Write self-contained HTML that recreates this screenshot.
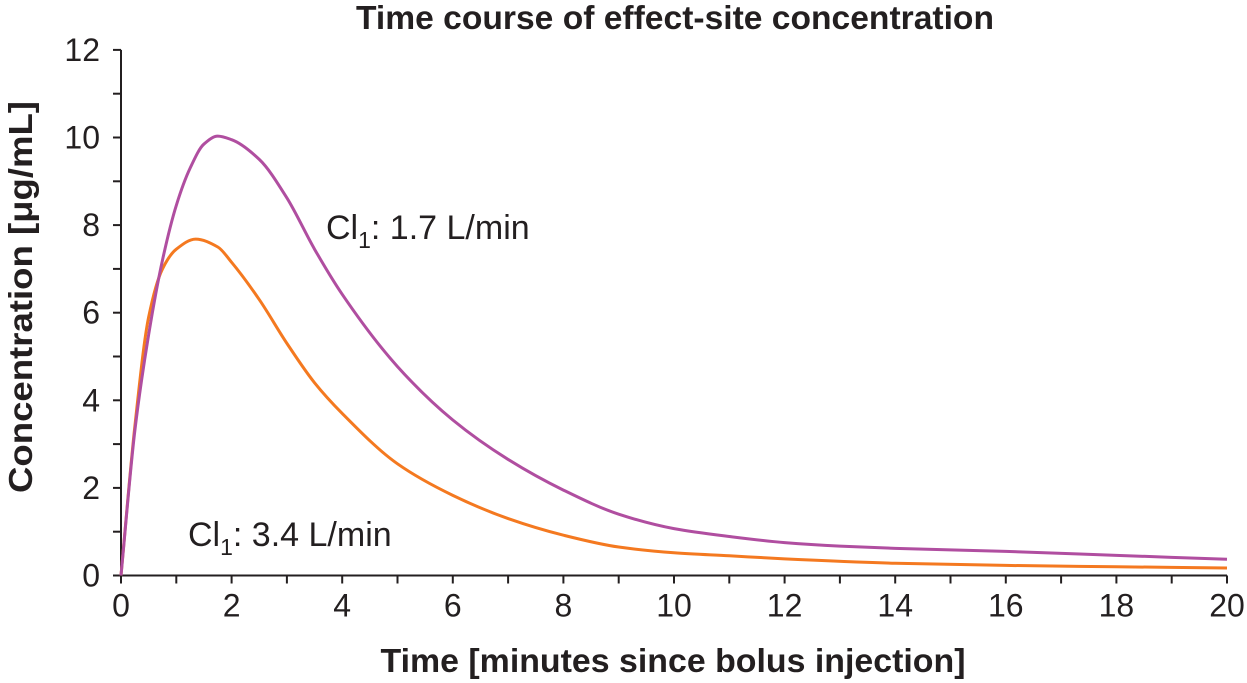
<!DOCTYPE html>
<html><head><meta charset="utf-8"><style>
body{margin:0;background:#fff;}
svg{display:block;font-family:"Liberation Sans",Arial,sans-serif;}
</style></head><body>
<svg id="chart" width="1247" height="683" viewBox="0 0 1247 683" xmlns="http://www.w3.org/2000/svg">
<text x="675" y="29" text-anchor="middle" font-size="33" font-weight="bold" fill="#231f20" textLength="638" lengthAdjust="spacingAndGlyphs">Time course of effect-site concentration</text>
<text transform="translate(32,297) rotate(-90)" text-anchor="middle" font-size="33" font-weight="bold" fill="#231f20" textLength="392" lengthAdjust="spacingAndGlyphs">Concentration [μg/mL]</text>
<text x="673" y="672" text-anchor="middle" font-size="33" font-weight="bold" fill="#231f20" textLength="585" lengthAdjust="spacingAndGlyphs">Time [minutes since bolus injection]</text>
<g id="axes"></g>
<g id="series"></g>
<text x="326" y="239" font-size="34" fill="#231f20">Cl<tspan font-size="23" dy="9">1</tspan><tspan dy="-9">: 1.7 L/min</tspan></text>
<text x="188" y="546" font-size="34" fill="#231f20">Cl<tspan font-size="23" dy="9">1</tspan><tspan dy="-9">: 3.4 L/min</tspan></text>
</svg>
<script>
const xTicks=[0,2,4,6,8,10,12,14,16,18,20];
const yTicks=[0,2,4,6,8,10,12];
const timeCl17=[0,0.25,0.5,0.75,1,1.25,1.5,1.75,2,2.5,3,3.5,4,5,6,7,8,9,10,11,12,13,14,16,18,20];
const concCl17=[0,3.3,5.5,7.2,8.45,9.3,9.85,10.03,9.95,9.5,8.62,7.45,6.42,4.77,3.55,2.65,1.95,1.4,1.07,0.89,0.75,0.67,0.62,0.55,0.46,0.37];
const timeCl34=[0,0.25,0.5,0.75,1,1.35,1.75,2,2.5,3,3.5,4,5,6,7,8,9,10,11,12,14,16,18,20];
const concCl34=[0,3.4,5.9,7.0,7.45,7.68,7.5,7.15,6.3,5.3,4.4,3.7,2.55,1.83,1.3,0.92,0.65,0.52,0.45,0.38,0.28,0.23,0.2,0.17];

const X0=121,XPX=55.3,Y0=575.5,YPX=43.8;
const sx=v=>X0+v*XPX, sy=v=>Y0-v*YPX;
const NS="http://www.w3.org/2000/svg";
const axes=document.getElementById('axes');
function mk(tag,attrs,parent){const e=document.createElementNS(NS,tag);for(const k in attrs)e.setAttribute(k,attrs[k]);parent.appendChild(e);return e;}
let e=mk('line',{x1:X0,y1:sy(12),x2:X0,y2:Y0,stroke:'#231f20','stroke-width':2},axes);


e=mk('line',{x1:X0,y1:Y0,x2:sx(20),y2:Y0,stroke:'#231f20','stroke-width':2},axes);


for(let v=0;v<=20;v++){
  e=mk('line',{x1:sx(v),y1:Y0,x2:sx(v),y2:Y0+8,stroke:'#231f20','stroke-width':2},axes);
  
  
}
for(let v=0;v<=12;v++){
  e=mk('line',{x1:X0-8,y1:sy(v),x2:X0,y2:sy(v),stroke:'#231f20','stroke-width':2},axes);
  
  
}
xTicks.forEach(v=>{
  const t=mk('text',{x:sx(v),y:Y0+41,'text-anchor':'middle','font-size':32,fill:'#231f20'},axes);
  t.textContent=v;
  
  
});
yTicks.forEach(v=>{
  const t=mk('text',{x:X0-21,y:sy(v)+11,'text-anchor':'end','font-size':32,fill:'#231f20'},axes);
  t.textContent=v;
  
  
});
function path(xs,ys){
  const n=xs.length,d=[],m=new Array(n);
  for(let i=0;i<n-1;i++)d.push((ys[i+1]-ys[i])/(xs[i+1]-xs[i]));
  m[0]=d[0];m[n-1]=d[n-2];
  for(let i=1;i<n-1;i++){
    if(d[i-1]*d[i]<=0)m[i]=0;
    else{const h0=xs[i]-xs[i-1],h1=xs[i+1]-xs[i];const w1=2*h1+h0,w2=h1+2*h0;m[i]=(w1+w2)/(w1/d[i-1]+w2/d[i]);}
  }
  let s='M'+sx(xs[0])+','+sy(ys[0]);
  for(let i=0;i<n-1;i++){
    const h=xs[i+1]-xs[i];
    s+=' C'+sx(xs[i]+h/3)+','+sy(ys[i]+m[i]*h/3)+' '+sx(xs[i+1]-h/3)+','+sy(ys[i+1]-m[i+1]*h/3)+' '+sx(xs[i+1])+','+sy(ys[i+1]);
  }
  return s;
}
const series=document.getElementById('series');
e=mk('path',{d:path(timeCl34,concCl34),fill:'none',stroke:'#f47920','stroke-width':3},series);


e=mk('path',{d:path(timeCl17,concCl17),fill:'none',stroke:'#b04ea0','stroke-width':3},series);


</script>
</body></html>
